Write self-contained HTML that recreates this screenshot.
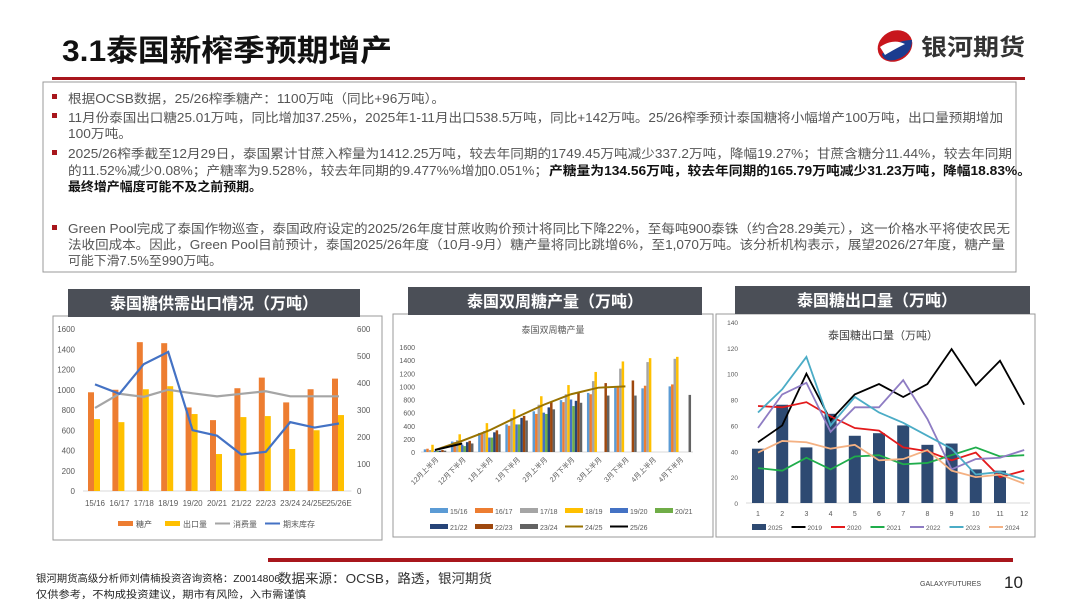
<!DOCTYPE html>
<html><head><meta charset="utf-8">
<style>
body{margin:0;width:1080px;height:608px;background:#fff;overflow:hidden;position:relative;font-family:"Liberation Sans","Noto Sans CJK SC",sans-serif}
svg{position:absolute;left:0;top:0}
</style></head>
<body>
<svg id="s" width="1080" height="608" viewBox="0 0 1080 608" font-family="Liberation Sans, Noto Sans CJK SC, sans-serif">
<text x="62" y="61" font-size="30" font-weight="bold" fill="#111" textLength="330" lengthAdjust="spacingAndGlyphs">3.1泰国新榨季预期增产</text>
<g>
<ellipse cx="895" cy="46" rx="18" ry="15" fill="#c8161d" transform="rotate(-30 895 46)"/>
<path d="M882 54 Q895 40 912 40 Q912 55 895 60 Q884 62 882 54Z" fill="#1b3c8f"/>
<path d="M880 47 Q893 38 905 44 Q893 50 885 55Z" fill="#fff"/>
<text x="921" y="55" font-size="23" font-weight="bold" fill="#333" textLength="104" lengthAdjust="spacingAndGlyphs">银河期货</text>
</g>
<rect x="52" y="77" width="973" height="3" fill="#a8161c"/>
<rect x="43" y="82" width="973" height="190" fill="none" stroke="#999" stroke-width="1"/>
<g font-size="12.5" fill="#555">
<rect x="52" y="94" width="5" height="5" fill="#a8161c"/>
<text x="68" y="103" textLength="377" lengthAdjust="spacingAndGlyphs">根据OCSB数据，25/26榨季糖产：1100万吨（同比+96万吨）。</text>
<rect x="52" y="113" width="5" height="5" fill="#a8161c"/>
<text x="68" y="122" textLength="935" lengthAdjust="spacingAndGlyphs">11月份泰国出口糖25.01万吨，同比增加37.25%，2025年1-11月出口538.5万吨，同比+142万吨。25/26榨季预计泰国糖将小幅增产100万吨，出口量预期增加</text>
<text x="68" y="138" textLength="64" lengthAdjust="spacingAndGlyphs">100万吨。</text>
<rect x="52" y="150" width="5" height="5" fill="#a8161c"/>
<text x="68" y="158" textLength="944" lengthAdjust="spacingAndGlyphs">2025/26榨季截至12月29日，泰国累计甘蔗入榨量为1412.25万吨，较去年同期的1749.45万吨减少337.2万吨，降幅19.27%；甘蔗含糖分11.44%，较去年同期</text>
<text x="68" y="175" textLength="480" lengthAdjust="spacingAndGlyphs">的11.52%减少0.08%；产糖率为9.528%，较去年同期的9.477%%增加0.051%；</text>
<text x="549" y="175" textLength="482" lengthAdjust="spacingAndGlyphs" font-weight="bold" fill="#111">产糖量为134.56万吨，较去年同期的165.79万吨减少31.23万吨，降幅18.83%。</text>
<text x="68" y="191" textLength="194" lengthAdjust="spacingAndGlyphs" font-weight="bold" fill="#111">最终增产幅度可能不及之前预期。</text>
<rect x="52" y="225" width="5" height="5" fill="#a8161c"/>
<text x="68" y="233" textLength="942" lengthAdjust="spacingAndGlyphs">Green Pool完成了泰国作物巡查，泰国政府设定的2025/26年度甘蔗收购价预计将同比下降22%，至每吨900泰铢（约合28.29美元），这一价格水平将使农民无</text>
<text x="68" y="249" textLength="937" lengthAdjust="spacingAndGlyphs">法收回成本。因此，Green Pool目前预计，泰国2025/26年度（10月-9月）糖产量将同比跳增6%，至1,070万吨。该分析机构表示，展望2026/27年度，糖产量</text>
<text x="68" y="265" textLength="154" lengthAdjust="spacingAndGlyphs">可能下滑7.5%至990万吨。</text>
</g>
<g>
<rect x="53" y="316" width="329" height="224" fill="#fff" stroke="#999"/>
<rect x="68" y="289" width="292" height="28" fill="#4b4f57"/>
<text x="214" y="309" font-size="16" font-weight="bold" fill="#fff" text-anchor="middle">泰国糖供需出口情况（万吨）</text>
<rect x="393" y="314" width="320" height="223" fill="#fff" stroke="#999"/>
<rect x="408" y="287" width="294" height="28" fill="#4b4f57"/>
<text x="555" y="307" font-size="16" font-weight="bold" fill="#fff" text-anchor="middle">泰国双周糖产量（万吨）</text>
<rect x="716" y="314" width="319" height="223" fill="#fff" stroke="#999"/>
<rect x="735" y="286" width="295" height="28" fill="#4b4f57"/>
<text x="877" y="306" font-size="16" font-weight="bold" fill="#fff" text-anchor="middle">泰国糖出口量（万吨）</text>
</g>
<rect x="268" y="558" width="745" height="4" fill="#a8161c"/>
<text x="36" y="582" font-size="10" fill="#222" textLength="244" lengthAdjust="spacingAndGlyphs">银河期货高级分析师刘倩楠投资咨询资格：Z0014806</text>
<text x="36" y="598" font-size="10" fill="#222" textLength="270" lengthAdjust="spacingAndGlyphs">仅供参考，不构成投资建议，期市有风险，入市需谨慎</text>
<text x="278" y="583" font-size="13" fill="#333" textLength="214" lengthAdjust="spacingAndGlyphs">数据来源：OCSB，路透，银河期货</text>
<text x="920" y="586" font-size="7" fill="#444">GALAXYFUTURES</text>
<text x="1004" y="588" font-size="17" fill="#222">10</text>
<g id="c1"></g><g id="c2"></g><g id="c3"></g>
</svg>
<script>
// Chart 1 data
const c1Cats=["15/16","16/17","17/18","18/19","19/20","20/21","21/22","22/23","23/24","24/25E","25/26E"];
const c1Prod=[975,1000,1470,1460,825,700,1015,1120,875,1005,1110];
const c1Export=[710,680,1005,1035,760,365,730,740,415,600,750];
const c1Cons=[820,960,930,1000,965,935,960,985,935,935,935];
const c1Stock=[395,360,470,515,225,205,135,145,255,235,250];
const c1LeftTicks=[0,200,400,600,800,1000,1200,1400,1600];
const c1RightTicks=[0,100,200,300,400,500,600];
// Chart 2 data
const c2Cats=["12月上半月","12月下半月","1月上半月","1月下半月","2月上半月","2月下半月","3月上半月","3月下半月","4月上半月","4月下半月"];
const c2Names=["15/16","16/17","17/18","18/19","19/20","20/21","21/22","22/23","23/24"];
const c2S1516=[40,160,290,420,620,790,900,980,970,1000];
const c2S1617=[50,150,280,400,580,760,880,1000,1010,1030];
const c2S1718=[30,180,320,520,720,880,1080,1270,1370,1420];
const c2S1819=[110,270,440,650,850,1020,1220,1380,1430,1450];
const c2S1920=[20,110,220,420,600,800,null,null,null,null];
const c2S2021=[15,90,220,420,580,700,null,null,null,null];
const c2S2122=[20,150,300,520,680,780,null,null,null,null];
const c2S2223=[30,170,330,550,760,900,1050,1090,null,null];
const c2S2324=[20,130,270,480,650,750,860,860,null,870];
const c2L2425=[30,170,330,530,720,880,980,1000];
const c2L2526=[30,130];
const c2Ticks=[0,200,400,600,800,1000,1200,1400,1600];
// Chart 3 data
const c3Months=[1,2,3,4,5,6,7,8,9,10,11,12];
const c3B2025=[42,76,43,69,52,54,60,45,46,26,25];
const c3L2019=[47,60,100,64,84,92,82,92,119,91,110,76];
const c3L2020=[75,74,78,67,58,56,43,40,33,39,20,25];
const c3L2021=[27,25,35,26,36,37,30,31,37,43,36,37];
const c3L2022=[58,84,93,55,74,74,95,65,26,34,35,41];
const c3L2023=[70,88,113,60,82,70,62,52,42,22,24,18];
const c3L2024=[39,48,47,42,45,33,34,41,25,20,22,15];
const c3Ticks=[0,20,40,60,80,100,120,140];

const NS="http://www.w3.org/2000/svg";
function mk(p,tag,at,txt){const e=document.createElementNS(NS,tag);for(const k in at)e.setAttribute(k,at[k]);if(txt!==undefined)e.textContent=txt;p.appendChild(e);return e;}
function pts(arr,xf,yf){return arr.map((v,i)=>v==null?null:xf(i)+","+yf(v)).filter(Boolean).join(" ");}

// ---- Chart 1
(function(){
const g=document.getElementById('c1');


const y0=491,y1=329,x0=83,step=24.4;
const yL=v=>y0-(v/1600)*(y0-y1), yR=v=>y0-(v/600)*(y0-y1), xc=i=>x0+12+i*step;
mk(g,'line',{x1:x0,x2:x0+step*c1Cats.length,y1:y0,y2:y0,stroke:'#d9d9d9'});
c1LeftTicks.forEach(t=>mk(g,'text',{x:75,y:yL(t)+3,'font-size':8,fill:'#595959','text-anchor':'end'},t));
c1RightTicks.forEach(t=>mk(g,'text',{x:357,y:yR(t)+3,'font-size':8,fill:'#595959'},t));
c1Cats.forEach((c,i)=>{
 const b=mk(g,'rect',{x:xc(i)-7,y:yL(c1Prod[i]),width:6,height:y0-yL(c1Prod[i]),fill:'#ed7d31'});
 
 
 const e=mk(g,'rect',{x:xc(i)-1,y:yL(c1Export[i]),width:6,height:y0-yL(c1Export[i]),fill:'#ffc000'});
 
 
 mk(g,'text',{x:xc(i),y:506,'font-size':8,fill:'#595959','text-anchor':'middle'},c);
});
const l1=mk(g,'polyline',{points:pts(c1Cons,xc,yL),fill:'none',stroke:'#a5a5a5','stroke-width':2.2});


const l2=mk(g,'polyline',{points:pts(c1Stock,xc,yR),fill:'none',stroke:'#4472c4','stroke-width':2.2});


const lg=[['rect','#ed7d31','糖产',118],['rect','#ffc000','出口量',165],['line','#a5a5a5','消费量',215],['line','#4472c4','期末库存',265]];
lg.forEach(([k,c,t,x])=>{
 const it=mk(g,'g',{});
 
 
 if(k==='rect')mk(it,'rect',{x:x,y:521,width:15,height:5,fill:c});else mk(it,'line',{x1:x,x2:x+15,y1:523.5,y2:523.5,stroke:c,'stroke-width':2});
 mk(it,'text',{x:x+18,y:527,'font-size':8,fill:'#595959'},t);
});
})();

// ---- Chart 2
(function(){
const g=document.getElementById('c2');


const y0=452,y1=347,x0=421,step=27.2;
const yf=v=>y0-(v/1600)*(y0-y1), xc=i=>x0+14+i*step;
mk(g,'text',{x:553,y:333,'font-size':9,fill:'#595959','text-anchor':'middle'},'泰国双周糖产量');
mk(g,'line',{x1:x0,x2:x0+step*10,y1:y0,y2:y0,stroke:'#d9d9d9'});
c2Ticks.forEach(t=>mk(g,'text',{x:415,y:yf(t)+3,'font-size':7,fill:'#595959','text-anchor':'end'},t));
const series=[c2S1516,c2S1617,c2S1718,c2S1819,c2S1920,c2S2021,c2S2122,c2S2223,c2S2324];
const cols=['#5b9bd5','#ed7d31','#a5a5a5','#ffc000','#4472c4','#70ad47','#264478','#9e480e','#636363'];
const bw=2.5;
series.forEach((s,k)=>s.forEach((v,i)=>{
 if(v==null)return;
 const b=mk(g,'rect',{x:xc(i)-11.25+k*bw,y:yf(v),width:bw,height:y0-yf(v),fill:cols[k]});
 
 
}));
const l1=mk(g,'polyline',{points:pts(c2L2425,xc,yf),fill:'none',stroke:'#997300','stroke-width':2});


const l2=mk(g,'polyline',{points:pts(c2L2526,xc,yf),fill:'none',stroke:'#000','stroke-width':2});


c2Cats.forEach((c,i)=>mk(g,'text',{x:xc(i)+4,y:460,'font-size':7,fill:'#595959','text-anchor':'end',transform:`rotate(-45 ${xc(i)+4} 460)`},c));
const lg=[['15/16',cols[0],0,0],['16/17',cols[1],1,0],['17/18',cols[2],2,0],['18/19',cols[3],3,0],['19/20',cols[4],4,0],['20/21',cols[5],5,0],['21/22',cols[6],0,1],['22/23',cols[7],1,1],['23/24',cols[8],2,1],['24/25','#997300',3,1],['25/26','#000',4,1]];
lg.forEach(([t,c,col,row],j)=>{
 const x=430+col*45,y=508+row*16;
 const it=mk(g,'g',{});
 
 
 if(j<9)mk(it,'rect',{x:x,y:y,width:18,height:5,fill:c});else mk(it,'line',{x1:x,x2:x+18,y1:y+2.5,y2:y+2.5,stroke:c,'stroke-width':2});
 mk(it,'text',{x:x+20,y:y+6,'font-size':7,fill:'#595959'},t);
});
})();

// ---- Chart 3
(function(){
const g=document.getElementById('c3');


const y0=503,y1=322,step=24.2;
const yf=v=>y0-(v/140)*(y0-y1), xc=i=>758+i*step;
mk(g,'text',{x:883,y:339,'font-size':11,fill:'#404040','text-anchor':'middle'},'泰国糖出口量（万吨）');
mk(g,'line',{x1:746,x2:1030,y1:y0,y2:y0,stroke:'#d9d9d9'});
c3Ticks.forEach(t=>mk(g,'text',{x:738,y:yf(t)+3,'font-size':6.5,fill:'#595959','text-anchor':'end'},t));
c3B2025.forEach((v,i)=>{
 const b=mk(g,'rect',{x:xc(i)-6,y:yf(v),width:12,height:y0-yf(v),fill:'#2e4a72'});
 
 
});
const lines=[[c3L2019,'#000','2019'],[c3L2020,'#e31a1c','2020'],[c3L2021,'#1fad4b','2021'],[c3L2022,'#8e7cc3','2022'],[c3L2023,'#4bacc6','2023'],[c3L2024,'#f4b183','2024']];
lines.forEach(([d,c,n])=>{
 const l=mk(g,'polyline',{points:pts(d,xc,yf),fill:'none',stroke:c,'stroke-width':1.8});
 
 
});
c3Months.forEach((m,i)=>mk(g,'text',{x:xc(i),y:516,'font-size':7,fill:'#595959','text-anchor':'middle'},m));
const lg=[['2025','#2e4a72',1]].concat(lines.map(l=>[l[2],l[1],0]));
lg.forEach(([t,c,isBar],j)=>{
 const x=752+j*39.5,y=527;
 const it=mk(g,'g',{});
 
 
 if(isBar)mk(it,'rect',{x:x,y:y-3,width:14,height:6,fill:c});else mk(it,'line',{x1:x,x2:x+14,y1:y,y2:y,stroke:c,'stroke-width':2});
 mk(it,'text',{x:x+16,y:y+3,'font-size':6.5,fill:'#595959'},t);
});
})();
</script>
</body></html>
